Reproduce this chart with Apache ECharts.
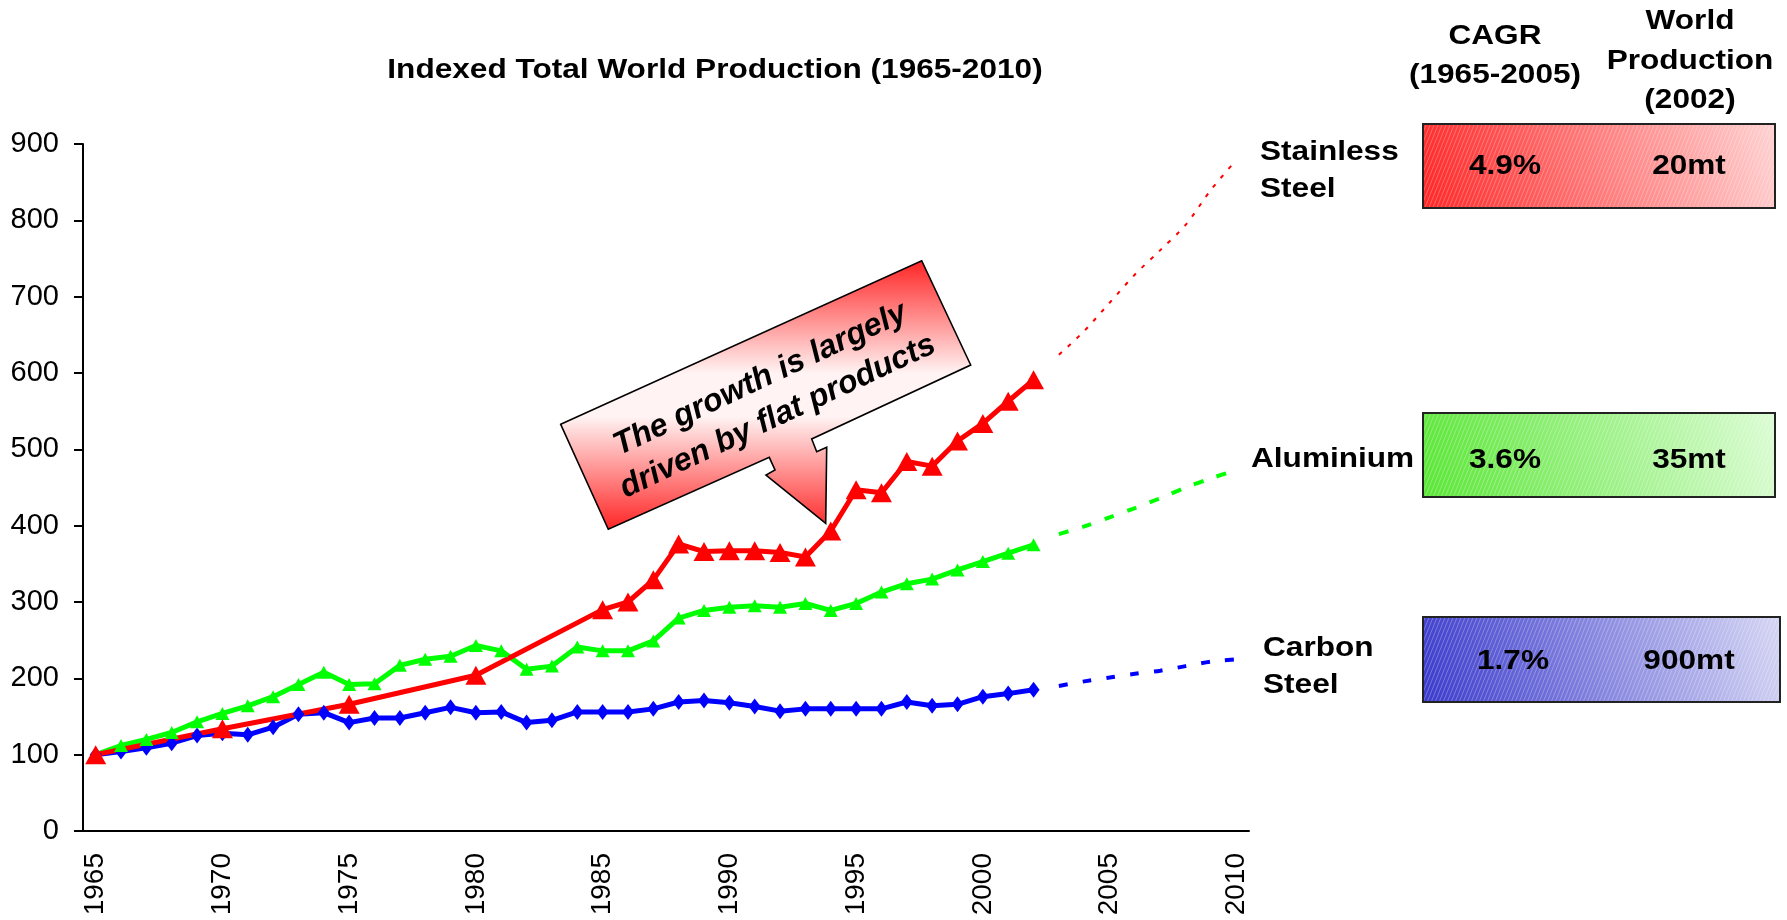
<!DOCTYPE html>
<html>
<head>
<meta charset="utf-8">
<script src="https://cdn.jsdelivr.net/npm/echarts@6/dist/echarts.min.js"></script>
<style>
  html, body { margin: 0; padding: 0; background: #ffffff; }
  #chart { width: 1787px; height: 920px; }
</style>
</head>
<body>
<div id="chart"></div>
<script>
// Years on the category axis (1965-2010)
const years = ['1965','1966','1967','1968','1969','1970','1971','1972','1973','1974',
               '1975','1976','1977','1978','1979','1980','1981','1982','1983','1984',
               '1985','1986','1987','1988','1989','1990','1991','1992','1993','1994',
               '1995','1996','1997','1998','1999','2000','2001','2002','2003','2004',
               '2005','2006','2007','2008','2009','2010'];

// Indexed production, 1965 = 100 (null = no observation)
const stainless = [100, null, null, null, null, 134, null, null, null, null,
                   166, null, null, null, null, 204, null, null, null, null,
                   290, 300, 329, 376, 366, 367, 367, 365, 359, 393,
                   447, 443, 484, 478, 511, 534, 563, 591, null, null,
                   null, null, null, null, null, null];
const aluminium = [100, 112, 120, 129, 143, 154, 164, 176, 192, 208,
                   192, 193, 217, 225, 229, 243, 236, 212, 216, 241,
                   236, 236, 249, 279, 289, 293, 295, 293, 298, 289,
                   298, 313, 324, 330, 342, 353, 364, 375, null, null,
                   null, null, null, null, null, null];
const carbon = [100, 104, 109, 115, 125, 128, 126, 136, 153, 155,
                142, 148, 148, 155, 162, 155, 156, 142, 145, 156,
                156, 156, 160, 169, 171, 168, 163, 157, 160, 160,
                160, 160, 169, 164, 166, 176, 180, 185, null, null,
                null, null, null, null, null, null];

// Outlook 2003-2010
const stainlessOutlook = [null, null, null, null, null, null, null, null, null, null,
                          null, null, null, null, null, null, null, null, null, null,
                          null, null, null, null, null, null, null, null, null, null,
                          null, null, null, null, null, null, null, null, 624, 655,
                          692, 729, 761, 794, 840, 879];
const aluminiumOutlook = [null, null, null, null, null, null, null, null, null, null,
                          null, null, null, null, null, null, null, null, null, null,
                          null, null, null, null, null, null, null, null, null, null,
                          null, null, null, null, null, null, null, null, 389, 399,
                          411, 423, 436, 450, 462, 473];
const carbonOutlook = [null, null, null, null, null, null, null, null, null, null,
                       null, null, null, null, null, null, null, null, null, null,
                       null, null, null, null, null, null, null, null, null, null,
                       null, null, null, null, null, null, null, null, 190, 196,
                       201, 206, 210, 216, 222, 225];

// Summary panel
const products = ['Stainless\nSteel', 'Aluminium', 'Carbon\nSteel'];
const cagr = ['4.9%', '3.6%', '1.7%'];
const worldProduction = ['20mt', '35mt', '900mt'];

const FONT = "'Liberation Sans', Arial, Helvetica, sans-serif";
const SX = 1.17; // horizontal text stretch

// fine diagonal texture for the summary boxes
function hatch() {
  const c = document.createElement('canvas');
  c.width = 4; c.height = 10;
  const g = c.getContext('2d');
  g.strokeStyle = 'rgba(255,255,255,0.28)';
  g.lineWidth = 1;
  g.beginPath();
  g.moveTo(0, 10); g.lineTo(4, 0);
  g.moveTo(-4, 10); g.lineTo(0, 0);
  g.moveTo(4, 10); g.lineTo(8, 0);
  g.stroke();
  return c;
}
const hatchCanvas = hatch();

function boldText(x, y, text, align, size) {
  return {
    type: 'text', x: x, y: y, scaleX: SX, z: 20,
    style: {
      text: text, x: 0, y: 0, align: align, verticalAlign: 'middle',
      font: 'bold ' + (size || 27) + 'px ' + FONT, fill: '#000', lineHeight: 37
    }
  };
}

function box(x, y, w, h, c0, c1) {
  return [
    {
      type: 'rect', z: 10,
      shape: { x: x, y: y, width: w, height: h },
      style: {
        fill: { type: 'linear', x: 0, y: 1, x2: 1, y2: 0,
                colorStops: [{ offset: 0, color: c0 }, { offset: 1, color: c1 }] },
        stroke: '#222', lineWidth: 2
      }
    },
    {
      type: 'rect', z: 11, silent: true,
      shape: { x: x + 1, y: y + 1, width: w - 2, height: h - 2 },
      style: { fill: { image: hatchCanvas, repeat: 'repeat' } }
    }
  ];
}

const graphics = [
  boldText(715, 71, 'Indexed Total World Production (1965-2010)', 'center'),
  boldText(1495, 37, 'CAGR', 'center'),
  boldText(1495, 76, '(1965-2005)', 'center'),
  boldText(1690, 22, 'World', 'center'),
  boldText(1690, 62, 'Production', 'center'),
  boldText(1690, 101, '(2002)', 'center'),
  ...box(1423, 124, 352, 84, '#ff2626', '#ffd2d2'),
  ...box(1423, 413, 352, 84, '#5ae636', '#dcfcd4'),
  ...box(1423, 617, 357, 85, '#3a3acc', '#d6d6f4'),
  boldText(1260, 171, products[0], 'left'),
  boldText(1251, 460, products[1], 'left'),
  boldText(1263, 667, products[2], 'left'),
  boldText(1505, 167, cagr[0], 'center'),
  boldText(1689, 167, worldProduction[0], 'center'),
  boldText(1505, 461, cagr[1], 'center'),
  boldText(1689, 461, worldProduction[1], 'center'),
  boldText(1513, 662, cagr[2], 'center'),
  boldText(1689, 662, worldProduction[2], 'center'),
  // callout pointing at the 1994 stainless jump
  {
    type: 'polygon', z: 30,
    shape: {
      points: [[560.7, 424.3], [921.7, 260.7], [970.7, 365], [811.7, 439], [816.7, 451.7],
               [826.7, 447.3], [825.7, 523.3], [766, 475], [775, 470], [769.3, 457.3],
               [608.3, 529.3]]
    },
    style: {
      fill: { type: 'linear', x: 0, y: 0, x2: 0, y2: 1,
              colorStops: [{ offset: 0, color: '#ff2424' }, { offset: 0.42, color: '#fff3f3' },
                           { offset: 0.58, color: '#fff3f3' }, { offset: 1, color: '#ff2424' }] },
      stroke: '#000', lineWidth: 1.6, lineJoin: 'miter'
    }
  },
  {
    type: 'text', x: 769, y: 398, rotation: 0.44, z: 31,
    style: {
      text: 'The growth is largely\ndriven by flat products', x: 0, y: 0,
      align: 'center', verticalAlign: 'middle',
      font: 'italic bold 32px ' + FONT, fill: '#000', lineHeight: 41
    }
  }
];

function line(name, data, color, width, symbol, size, extra) {
  return Object.assign({
    name: name, type: 'line', data: data, connectNulls: true,
    symbol: symbol, symbolSize: size, showSymbol: symbol !== 'none', showAllSymbol: true,
    itemStyle: { color: color }, lineStyle: { color: color, width: width },
    emphasis: { disabled: true }, animation: false
  }, extra || {});
}

const chart = echarts.init(document.getElementById('chart'), null, { renderer: 'canvas' });
chart.setOption({
  backgroundColor: '#ffffff',
  animation: false,
  grid: { left: 83, right: 538, top: 144, bottom: 89, containLabel: false },
  xAxis: {
    type: 'category', data: years, boundaryGap: true,
    axisLine: { lineStyle: { color: '#000', width: 2 } },
    axisTick: { interval: 4, length: 9, alignWithLabel: false, lineStyle: { color: '#000', width: 2 } },
    axisLabel: { interval: 4, rotate: 90, margin: 22, color: '#000', fontSize: 28, fontFamily: FONT }
  },
  yAxis: {
    type: 'value', min: 0, max: 900, interval: 100,
    splitLine: { show: false },
    axisLine: { show: true, lineStyle: { color: '#000', width: 2 } },
    axisTick: { show: true, length: 9, lineStyle: { color: '#000', width: 2 } },
    axisLabel: { margin: 24, color: '#000', fontSize: 29, fontFamily: FONT }
  },
  series: [
    line('Carbon Steel', carbon, '#0000ff', 5, 'diamond', [12, 16]),
    line('Aluminium', aluminium, '#00ff00', 5, 'triangle', [14, 13]),
    line('Stainless Steel', stainless, '#ff0000', 5, 'triangle', [21, 19]),
    line('Carbon Steel outlook', carbonOutlook, '#0000ff', 4, 'none', 0,
         { smooth: 0.3, lineStyle: { color: '#0000ff', width: 4, type: [9, 15] } }),
    line('Aluminium outlook', aluminiumOutlook, '#00ff00', 4, 'none', 0,
         { smooth: 0.3, lineStyle: { color: '#00ff00', width: 4, type: [10, 14] } }),
    line('Stainless Steel outlook', stainlessOutlook, '#ff0000', 2, 'none', 0,
         { smooth: 0.3, lineStyle: { color: '#ff0000', width: 2, type: [4, 8] } })
  ],
  graphic: graphics
});
</script>
</body>
</html>
